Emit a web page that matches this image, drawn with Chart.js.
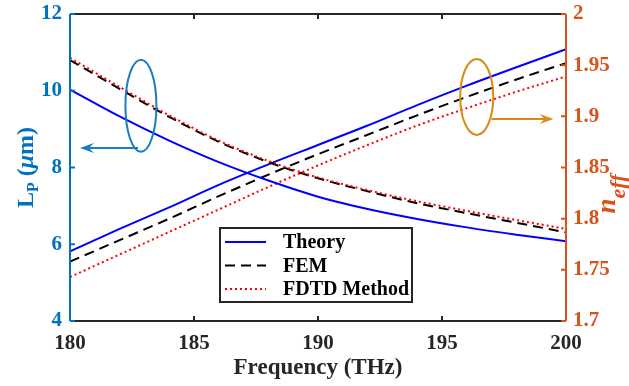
<!DOCTYPE html>
<html>
<head>
<meta charset="utf-8">
<script src="https://cdn.jsdelivr.net/npm/chart.js@4.4.1/dist/chart.umd.min.js"></script>
<style>
  html, body { margin: 0; padding: 0; background: #fff; }
</style>
</head>
<body>
<canvas id="chart" width="629" height="386"></canvas>
<script>
// frequency (THz)
const freq = [180, 182, 184, 186, 188, 190, 192, 194, 196, 198, 200];

// L_P (um), left axis
const lpTheory = [10.03, 9.33, 8.70, 8.14, 7.66, 7.24, 6.92, 6.66, 6.44, 6.25, 6.08];
const lpFem    = [10.80, 10.05, 9.32, 8.67, 8.14, 7.72, 7.38, 7.07, 6.81, 6.56, 6.31];
const lpFdtd   = [10.86, 10.10, 9.36, 8.70, 8.17, 7.74, 7.41, 7.12, 6.87, 6.63, 6.40];

// n_eff, right axis
const nTheory = [1.768, 1.790, 1.811, 1.833, 1.853, 1.872, 1.891, 1.911, 1.930, 1.948, 1.9655];
const nFem    = [1.758, 1.779, 1.800, 1.822, 1.843, 1.863, 1.882, 1.901, 1.919, 1.936, 1.952];
const nFdtd   = [1.743, 1.765, 1.787, 1.809, 1.831, 1.852, 1.872, 1.891, 1.908, 1.924, 1.939];

const legendNames = ['Theory', 'FEM', 'FDTD Method'];

const BLUE_AX = '#0072BD';
const ORANGE_AX = '#D95319';
const DARK = '#262626';
const SERIF = '"Liberation Serif", "Times New Roman", serif';

const styles = [
  { color: '#0000FF', dash: [] },
  { color: '#000000', dash: [10, 6] },
  { color: '#FF0000', dash: [2, 3] }
];

function pts(ys) {
  return freq.map((f, i) => ({ x: f, y: ys[i] }));
}

function ds(ys, k, axis) {
  return {
    data: pts(ys),
    yAxisID: axis,
    borderColor: styles[k].color,
    borderDash: styles[k].dash,
    borderWidth: 2,
    pointRadius: 0,
    cubicInterpolationMode: 'monotone',
    fill: false
  };
}

const datasets = [
  ds(lpFdtd, 2, 'yL'), ds(lpFem, 1, 'yL'), ds(lpTheory, 0, 'yL'),
  ds(nFdtd, 2, 'yR'), ds(nFem, 1, 'yR'), ds(nTheory, 0, 'yR')
];

// no extra padding from tick labels, the layout padding sets the plot box
function noPad(s) {
  s.paddingTop = 0; s.paddingBottom = 0;
  s.paddingLeft = 0; s.paddingRight = 0;
}

function arrow(ctx, x1, y, x2, color) {
  const dir = Math.sign(x2 - x1);
  ctx.strokeStyle = color;
  ctx.fillStyle = color;
  ctx.lineWidth = 2;
  ctx.beginPath();
  ctx.moveTo(x1, y);
  ctx.lineTo(x2 - dir * 8, y);
  ctx.stroke();
  ctx.beginPath();
  ctx.moveTo(x2, y);
  ctx.lineTo(x2 - dir * 14, y - 5);
  ctx.lineTo(x2 - dir * 9, y);
  ctx.lineTo(x2 - dir * 14, y + 5);
  ctx.closePath();
  ctx.fill();
}

const decorations = {
  id: 'decorations',
  afterDatasetsDraw(chart) {
    const { ctx, chartArea: a, scales } = chart;
    const x = scales.x, yL = scales.yL, yR = scales.yR;
    ctx.save();

    // frame
    ctx.lineWidth = 2;
    ctx.strokeStyle = DARK;
    ctx.beginPath();
    ctx.moveTo(a.left, a.top); ctx.lineTo(a.right, a.top);
    ctx.moveTo(a.left, a.bottom); ctx.lineTo(a.right, a.bottom);
    [185, 190, 195].forEach(v => {
      const px = x.getPixelForValue(v);
      ctx.moveTo(px, a.top); ctx.lineTo(px, a.top + 5);
      ctx.moveTo(px, a.bottom); ctx.lineTo(px, a.bottom - 5);
    });
    ctx.stroke();

    ctx.strokeStyle = BLUE_AX;
    ctx.beginPath();
    ctx.moveTo(a.left, a.top); ctx.lineTo(a.left, a.bottom);
    [4, 6, 8, 10, 12].forEach(v => {
      const py = yL.getPixelForValue(v);
      ctx.moveTo(a.left, py); ctx.lineTo(a.left + 5, py);
    });
    ctx.stroke();

    ctx.strokeStyle = ORANGE_AX;
    ctx.beginPath();
    ctx.moveTo(a.right, a.top); ctx.lineTo(a.right, a.bottom);
    [1.7, 1.75, 1.8, 1.85, 1.9, 1.95, 2].forEach(v => {
      const py = yR.getPixelForValue(v);
      ctx.moveTo(a.right, py); ctx.lineTo(a.right - 5, py);
    });
    ctx.stroke();

    // ellipse + arrow marking the L_P curves
    const c1 = '#1A7DC0';
    ctx.strokeStyle = c1;
    ctx.lineWidth = 2;
    const e1x = x.getPixelForValue(182.86), e1y = yL.getPixelForValue(9.61);
    ctx.beginPath();
    ctx.ellipse(e1x, e1y, 15.5, 46, 0, 0, Math.PI * 2);
    ctx.stroke();
    const a1y = yL.getPixelForValue(8.51);
    arrow(ctx, x.getPixelForValue(182.74), a1y, x.getPixelForValue(180.4), c1);

    // ellipse + arrow marking the n_eff curves
    const c2 = '#D98A17';
    ctx.strokeStyle = c2;
    const e2x = x.getPixelForValue(196.4), e2y = yR.getPixelForValue(1.919);
    ctx.beginPath();
    ctx.ellipse(e2x, e2y, 16.5, 38, 0, 0, Math.PI * 2);
    ctx.stroke();
    const a2y = yR.getPixelForValue(1.8975);
    arrow(ctx, x.getPixelForValue(197.0), a2y, x.getPixelForValue(199.5), c2);

    // legend
    const lx = 220, ly = 228, lw = 192, lh = 74;
    ctx.fillStyle = '#fff';
    ctx.fillRect(lx, ly, lw, lh);
    ctx.strokeStyle = DARK;
    ctx.lineWidth = 2;
    ctx.strokeRect(lx, ly, lw, lh);
    ctx.font = 'bold 20px ' + SERIF;
    ctx.textBaseline = 'middle';
    ctx.textAlign = 'left';
    legendNames.forEach((name, i) => {
      const yy = ly + 14 + i * 23.5;
      ctx.strokeStyle = styles[i].color;
      ctx.setLineDash(styles[i].dash);
      ctx.lineWidth = 2;
      ctx.beginPath();
      ctx.moveTo(lx + 5, yy); ctx.lineTo(lx + 46, yy);
      ctx.stroke();
      ctx.setLineDash([]);
      ctx.fillStyle = '#000';
      ctx.fillText(name, lx + 63, yy + 1);
    });

    ctx.restore();
  },
  afterDraw(chart) {
    const { ctx, chartArea: a } = chart;
    ctx.save();
    ctx.textBaseline = 'alphabetic';
    ctx.textAlign = 'left';

    // left title: L_P (μm)
    ctx.translate(33, (a.top + a.bottom) / 2);
    ctx.rotate(-Math.PI / 2);
    ctx.fillStyle = BLUE_AX;
    const big = 'bold 24px ' + SERIF, sub = 'bold 16px ' + SERIF, it = 'italic bold 24px ' + SERIF;
    ctx.font = big; const wL = ctx.measureText('L').width;
    ctx.font = sub; const wP = ctx.measureText('P').width;
    ctx.font = big; const wO = ctx.measureText(' (').width;
    ctx.font = it; const wMu = ctx.measureText('\u03bc').width;
    ctx.font = big; const wM = ctx.measureText('m)').width;
    let cx = -(wL + wP + wO + wMu + wM) / 2;
    ctx.font = big; ctx.fillText('L', cx, 0); cx += wL;
    ctx.font = sub; ctx.fillText('P', cx, 5); cx += wP;
    ctx.font = big; ctx.fillText(' (', cx, 0); cx += wO;
    ctx.font = it; ctx.fillText('\u03bc', cx, 0); cx += wMu;
    ctx.font = big; ctx.fillText('m)', cx, 0);
    ctx.restore();

    // right title: n_eff
    ctx.save();
    ctx.translate(615, 194);
    ctx.rotate(-Math.PI / 2);
    ctx.fillStyle = ORANGE_AX;
    const nf = 'italic bold 27px ' + SERIF, ef = 'italic bold 22px ' + SERIF;
    ctx.font = nf; const wn = ctx.measureText('n').width;
    ctx.font = ef; const we = ctx.measureText('eff').width;
    let rx = -(wn + we) / 2;
    ctx.font = nf; ctx.fillText('n', rx, 0); rx += wn;
    ctx.font = ef; ctx.fillText('eff', rx, 10);
    ctx.restore();
  }
};

const tickFont = { family: SERIF, size: 21, weight: 'bold' };

new Chart(document.getElementById('chart'), {
  type: 'line',
  data: { datasets: datasets },
  plugins: [decorations],
  options: {
    responsive: false,
    animation: false,
    layout: { padding: { top: 14, left: 0, right: 0, bottom: 0 } },
    plugins: { legend: { display: false }, tooltip: { enabled: false } },
    scales: {
      x: {
        type: 'linear',
        min: 180, max: 200,
        afterFit: s => { s.height = 65; noPad(s); },
        grid: { display: false, drawTicks: false },
        border: { display: false },
        ticks: { stepSize: 5, color: DARK, font: tickFont, padding: 10 },
        title: {
          display: true, text: 'Frequency (THz)', color: DARK,
          font: { family: SERIF, size: 23, weight: 'bold' },
          padding: { top: 0, bottom: 4 }
        }
      },
      yL: {
        position: 'left',
        min: 4, max: 12,
        afterFit: s => { s.width = 70; noPad(s); },
        grid: { display: false, drawTicks: false },
        border: { display: false },
        ticks: { stepSize: 2, color: BLUE_AX, font: tickFont, padding: 8 }
      },
      yR: {
        position: 'right',
        min: 1.7, max: 2,
        afterFit: s => { s.width = 63; noPad(s); },
        grid: { display: false, drawTicks: false },
        border: { display: false },
        ticks: {
          stepSize: 0.05, color: ORANGE_AX, font: tickFont, padding: 7,
          callback: v => String(Math.round(v * 100) / 100)
        }
      }
    }
  }
});
</script>
</body>
</html>
